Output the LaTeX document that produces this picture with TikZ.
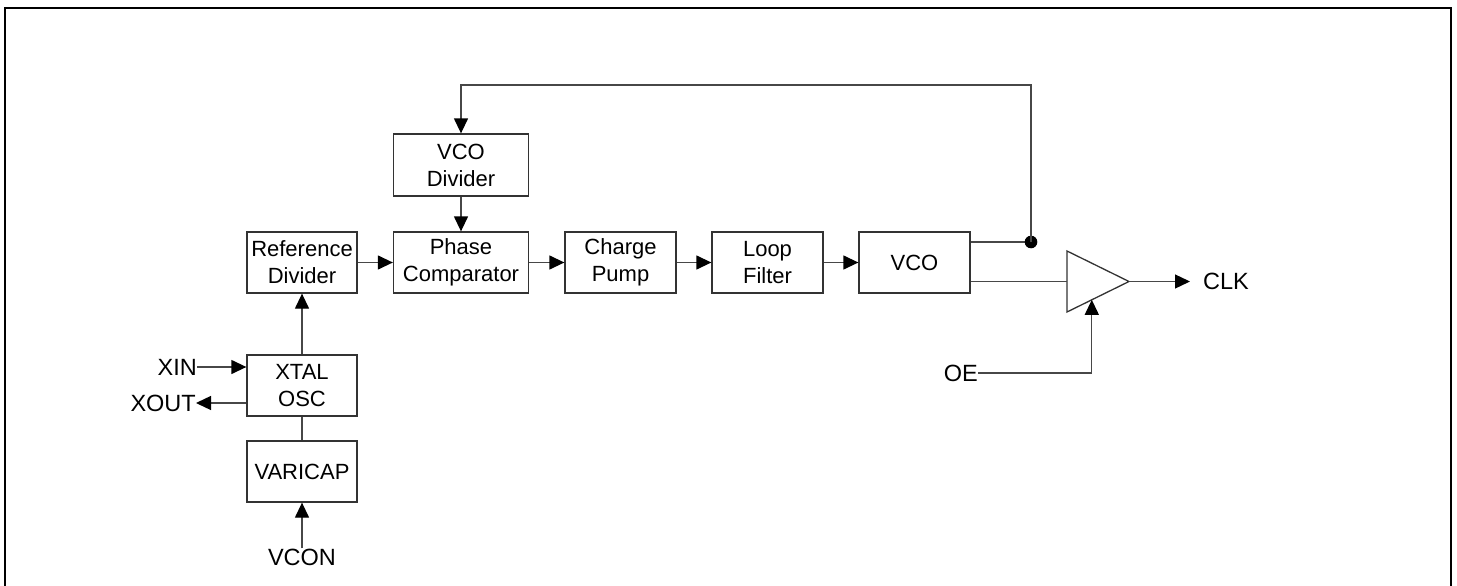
\documentclass[tikz,border=0pt]{standalone}
\usepackage{fontspec}
\setmainfont{Liberation Sans}
\usetikzlibrary{arrows.meta,calc}
\begin{document}
\begin{tikzpicture}[x=1pt,y=-1pt,
  blk/.style={draw=black!80,line width=1.3pt,align=center,inner sep=0pt,
    font=\fontsize{22}{27}\selectfont,minimum height=61pt},
  pin/.style={inner sep=0pt,font=\fontsize{23.5}{27}\selectfont},
  wire/.style={draw=black!72,line width=1.3pt},
  arr/.style={wire,-{Triangle[length=15pt,width=14pt,color=black,fill=black]}},
]
\useasboundingbox (0,0) rectangle (1457,586);
\draw[line width=2.2pt] (5,8) rectangle (1451,600);

% blocks
\node[blk,minimum width=110pt] (refdiv) at (302,262.5) {Reference\\Divider};
\node[blk,minimum width=135pt] (phase) at (461,262.5) {Phase\\Comparator};
\node[blk,minimum width=135pt,minimum height=62pt] (vcodiv) at (461,165) {VCO\\Divider};
\node[blk,minimum width=111pt] (charge) at (620.5,262.5) {Charge\\Pump};
\node[blk,minimum width=111pt] (loop) at (767.5,262.5) {Loop\\Filter};
\node[blk,minimum width=111pt] (vco) at (914.5,262.5) {VCO};
\node[blk,minimum width=110pt] (xtal) at (302,385.5) {XTAL\\OSC};
\node[blk,minimum width=110pt] (varicap) at (302,471.5) {VARICAP};

% pins
\node[pin,anchor=east] (xin) at (197,367) {XIN};
\node[pin,anchor=east] (xout) at (196,403) {XOUT};
\node[pin] (vcon) at (302,557) {VCON};
\node[pin,anchor=east] (oe) at (978,373) {OE};
\node[pin,anchor=west] (clk) at (1203,281.5) {CLK};

% buffer
\coordinate (bufT) at (1067,251);
\coordinate (bufB) at (1067,312);
\coordinate (bufO) at (1129,281.5);
\coordinate (bufI) at (1067,281.5);
\draw[draw=black!80,line width=1.3pt] (bufT) -- (bufO) -- (bufB) -- cycle;
\coordinate (bufE) at ($(bufB)!0.4!(bufO)$);

% feedback
\coordinate (tap) at (1031,242);
\coordinate (vcoA) at (vco.east |- tap);
\coordinate (vcoB) at (vco.east |- bufI);
\draw[wire] (vcoA) -- (tap);
\fill[black] (tap) circle (6.3pt);
\draw[arr] (tap) -- (tap |- 0,85) -- (vcodiv.north |- 0,85) -- (vcodiv.north);
\draw[arr] (vcodiv) -- (phase);

% main chain
\draw[arr] (refdiv) -- (phase);
\draw[arr] (phase) -- (charge);
\draw[arr] (charge) -- (loop);
\draw[arr] (loop) -- (vco);
\draw[wire] (vcoB) -- (bufI);
\draw[arr] (bufO) -- ++(61,0);
\draw[arr] (oe.east) -- (bufE |- oe.east) -- (bufE);

% oscillator
\draw[arr] (xtal) -- (refdiv);
\draw[wire] (xtal) -- (varicap);
\draw[arr] (vcon.north) -- (varicap.south);
\draw[arr] (xin.east) -- (xtal.west |- xin.east);
\draw[arr] (xtal.west |- xout.east) -- (xout.east);
\end{tikzpicture}
\end{document}
